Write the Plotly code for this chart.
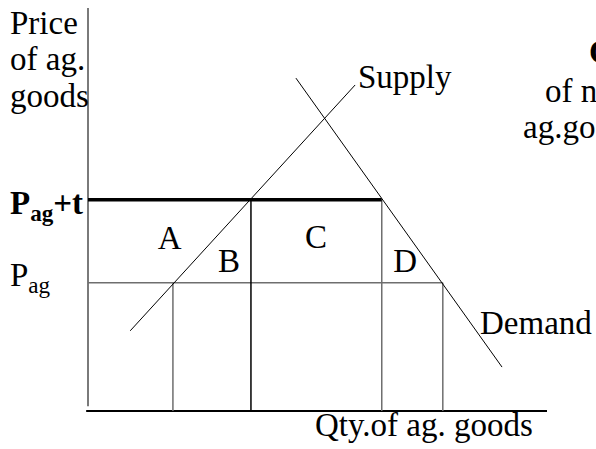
import plotly.graph_objects as go

# ---- data (economic units) ----
supply_q = [9.2, 58.2]
supply_p = [19.9, 80.9]
demand_q = [45.3, 90.2]
demand_p = [82.6, 10.9]
p_world = 31.8          # P_ag
p_tariff = 52.4         # P_ag + t
q_supply_world = 18.5
q_supply_tariff = 35.5
q_demand_tariff = 64.0
q_demand_world = 77.3
axis_q_max = 100.0
axis_p_max = 100.0

area_labels = ["A", "B", "C", "D"]
area_q = [17.8, 30.7, 49.7, 69.1]
area_p = [42.3, 36.6, 42.6, 36.6]

FONT = "Liberation Serif"
FS = 33
W, H = 596, 449

fig = go.Figure()

def seg(xs, ys, color, width):
    fig.add_trace(go.Scatter(x=xs, y=ys, mode="lines",
                             line=dict(color=color, width=width),
                             hoverinfo="skip", showlegend=False))

GRAY = "#6e6e6e"
# axes
seg([0, 0], [1.2, axis_p_max], "#7a7a7a", 2)
seg([-0.4, axis_q_max], [0, 0], "black", 2)
# world price line and verticals
seg([0, q_demand_world], [p_world, p_world], GRAY, 1.5)
seg([q_supply_world, q_supply_world], [0, p_world], GRAY, 1.5)
seg([q_demand_world, q_demand_world], [0, p_world], GRAY, 1.5)
seg([q_demand_tariff, q_demand_tariff], [0, p_tariff], GRAY, 1.5)
seg([q_supply_tariff, q_supply_tariff], [0, p_tariff], "black", 1.5)
# tariff price line
seg([0, q_demand_tariff], [p_tariff, p_tariff], "black", 3.5)
# supply and demand
seg(supply_q, supply_p, "black", 1)
seg(demand_q, demand_p, "black", 1)

fig.add_trace(go.Scatter(x=area_q, y=area_p, mode="text", text=area_labels,
                         textfont=dict(family=FONT, size=FS, color="black"),
                         hoverinfo="skip", showlegend=False))

def ann(text, px, py, anchor="left"):
    fig.add_annotation(text=text, x=px / W, y=1 - py / H, xref="paper", yref="paper",
                       xanchor=anchor, yanchor="middle", showarrow=False,
                       font=dict(family=FONT, size=FS, color="black"))

ann("Price", 8, 23)
ann("of ag.", 8, 59)
ann("goods", 8, 96)
ann("<b>P<sub>ag</sub>+t</b>", 8, 205)
ann("P<sub>ag</sub>", 8, 277)
ann("Supply", 356, 77)
ann("Demand", 478, 323)
ann("Qty.of ag. goods", 313, 425)
ann("<b>C</b>", 587, 52)
ann("of non-", 543, 91)
ann("ag.goods", 521, 127)

fig.update_layout(
    width=W, height=H, margin=dict(l=0, r=0, t=0, b=0),
    paper_bgcolor="white", plot_bgcolor="white",
    xaxis=dict(range=[-88 / 4.59, (W - 88) / 4.59], visible=False, fixedrange=True),
    yaxis=dict(range=[(411 - H) / 4.03, 411 / 4.03], visible=False, fixedrange=True),
)
fig.write_html("out.html", config={"displayModeBar": False},
               post_script="document.body.style.margin='0';document.body.style.overflow='hidden';")
